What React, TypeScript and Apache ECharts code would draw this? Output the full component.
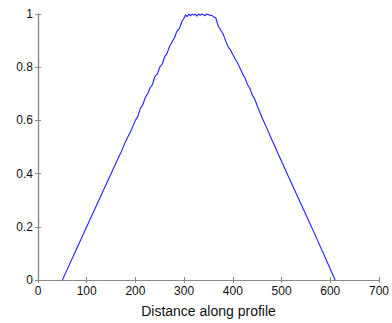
import React, { useEffect, useRef } from "react";
import * as echarts from "echarts";

const profileX = [50, 60, 80, 100, 120, 140, 160, 170, 180, 190, 200, 205, 210, 215, 220, 225, 230, 235, 240, 245, 250, 255, 260, 265, 270, 275, 280, 285, 290, 295, 300, 303, 306, 310, 313, 316, 320, 323, 326, 330, 333, 336, 340, 343, 346, 350, 353, 356, 360, 365, 370, 375, 380, 385, 390, 395, 400, 405, 410, 415, 420, 425, 430, 435, 440, 445, 450, 460, 470, 480, 490, 510, 530, 550, 570, 590, 610];
const profileY = [0, 0.04, 0.12, 0.2, 0.28, 0.36, 0.44, 0.478, 0.522, 0.558, 0.6, 0.615, 0.645, 0.658, 0.685, 0.7, 0.722, 0.735, 0.765, 0.775, 0.8, 0.812, 0.84, 0.852, 0.878, 0.895, 0.91, 0.935, 0.945, 0.97, 0.985, 0.997, 0.99, 1.0, 0.993, 1.0, 0.996, 0.999, 0.992, 1.0, 0.995, 1.0, 0.997, 0.993, 1.0, 0.998, 0.994, 0.996, 0.99, 0.985, 0.955, 0.94, 0.925, 0.9, 0.878, 0.865, 0.848, 0.83, 0.815, 0.795, 0.775, 0.76, 0.735, 0.72, 0.695, 0.68, 0.655, 0.61, 0.57, 0.527, 0.487, 0.405, 0.325, 0.245, 0.165, 0.083, 0];
const xTicks = [0, 100, 200, 300, 400, 500, 600, 700];
const yTicks = [0, 0.2, 0.4, 0.6, 0.8, 1];
const xLabel = "Distance along profile";

export default function App() {
  const ref = useRef<HTMLDivElement>(null);
  useEffect(() => {
    if (!ref.current) return;
    const chart = echarts.init(ref.current, undefined, { renderer: "svg" });
    const font = "Liberation Sans";
    const axisLine = { show: true, lineStyle: { color: "#8a8a8a", width: 1.2 } };
    const tick = { show: true, inside: true, length: 3, lineStyle: { color: "#8a8a8a" } };
    const label = { color: "#111", fontFamily: font, fontSize: 12 };
    chart.setOption({
      animation: false,
      backgroundColor: "#fff",
      grid: { left: 38, top: 14, right: 10, bottom: 40, containLabel: false },
      xAxis: [
        {
          type: "value",
          min: xTicks[0],
          max: xTicks[xTicks.length - 1],
          interval: 100,
          position: "bottom",
          name: xLabel,
          nameLocation: "middle",
          nameGap: 24,
          nameTextStyle: { color: "#111", fontFamily: font, fontSize: 14 },
          axisLine,
          axisTick: tick,
          axisLabel: { ...label, margin: 5 },
          splitLine: { show: false },
        },
        {
          type: "value",
          min: xTicks[0],
          max: xTicks[xTicks.length - 1],
          interval: 100,
          position: "top",
          axisLine,
          axisTick: tick,
          axisLabel: { show: false },
          splitLine: { show: false },
        },
      ],
      yAxis: [
        {
          type: "value",
          min: yTicks[0],
          max: yTicks[yTicks.length - 1],
          interval: 0.2,
          position: "left",
          axisLine,
          axisTick: tick,
          axisLabel: { ...label, margin: 5 },
          splitLine: { show: false },
        },
        {
          type: "value",
          min: yTicks[0],
          max: yTicks[yTicks.length - 1],
          interval: 0.2,
          position: "right",
          axisLine,
          axisTick: tick,
          axisLabel: { show: false },
          splitLine: { show: false },
        },
      ],
      series: [
        {
          type: "line",
          data: profileX.map((x, i) => [x, profileY[i]]),
          showSymbol: false,
          lineStyle: { color: "#2020ff", width: 1.1 },
          clip: false,
        },
      ],
    });
    return () => chart.dispose();
  }, []);
  return (
    <div
      ref={ref}
      style={{ position: "absolute", left: 0, top: 0, width: 392, height: 323 }}
    />
  );
}
